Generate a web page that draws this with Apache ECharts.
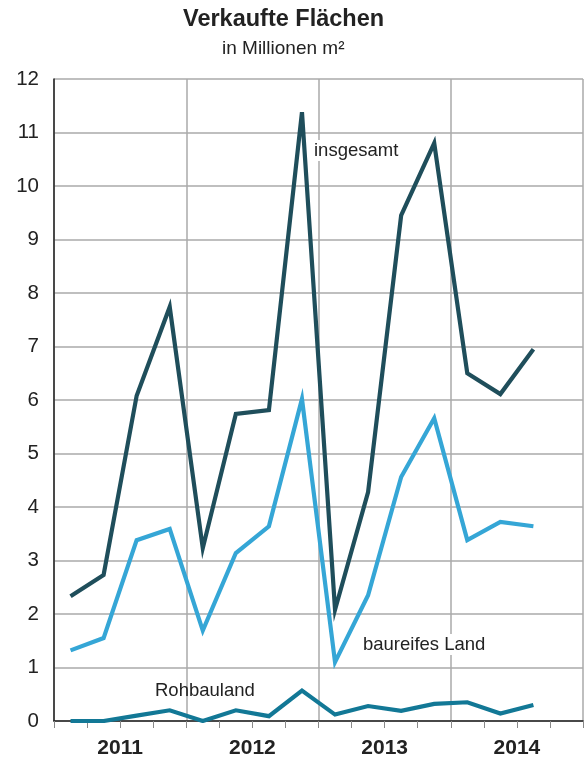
<!DOCTYPE html>
<html>
<head>
<meta charset="utf-8">
<script src="https://cdn.jsdelivr.net/npm/echarts@6/dist/echarts.min.js"></script>
<style>
  html, body { margin: 0; padding: 0; background: #fff; }
  #chart { width: 587px; height: 762px; }
</style>
</head>
<body>
<div id="chart"></div>
<script>
// Quartale 2011 Q1 .. 2014 Q4 (letztes Quartal ohne Werte)
const quarters = [
  "2011 Q1", "2011 Q2", "2011 Q3", "2011 Q4",
  "2012 Q1", "2012 Q2", "2012 Q3", "2012 Q4",
  "2013 Q1", "2013 Q2", "2013 Q3", "2013 Q4",
  "2014 Q1", "2014 Q2", "2014 Q3", "2014 Q4"
];
const years = ["2011", "2012", "2013", "2014"];

// Werte in Millionen m²
const insgesamt = [2.33, 2.73, 6.08, 7.74, 3.23, 5.74, 5.81, 11.38, 2.08, 4.28, 9.45, 10.8, 6.5, 6.11, 6.95];
const baureifesLand = [1.32, 1.55, 3.38, 3.59, 1.69, 3.14, 3.64, 6.02, 1.1, 2.35, 4.56, 5.66, 3.38, 3.72, 3.64];
const rohbauland = [0, 0, 0.1, 0.2, 0, 0.2, 0.09, 0.57, 0.12, 0.28, 0.19, 0.32, 0.35, 0.14, 0.3];

const yTicks = [0, 1, 2, 3, 4, 5, 6, 7, 8, 9, 10, 11, 12];

const font = "'Liberation Sans', Arial, sans-serif";

let myChart = echarts.init(document.getElementById("chart"));

function lineSeries(name, data, color) {
  return {
    name: name,
    type: "line",
    xAxisIndex: 0,
    data: data,
    symbol: "none",
    lineStyle: { color: color, width: 4.2, join: "miter" },
    z: 5
  };
}

let option = {
  animation: false,
  backgroundColor: "#fff",
  // Titel etwas links von der Mitte, wie im Original
  title: [
    {
      text: "Verkaufte Flächen",
      left: 178,
      top: 3,
      textStyle: { fontFamily: font, fontSize: 23.5, fontWeight: "bold", color: "#222" }
    },
    {
      text: "in Millionen m²",
      left: 217,
      top: 34,
      textStyle: { fontFamily: font, fontSize: 19, fontWeight: "normal", color: "#222" }
    }
  ],
  grid: { left: 54, right: 4, top: 79, bottom: 41 },
  xAxis: [
    {
      type: "category",
      data: quarters,
      boundaryGap: true,
      axisLine: { show: true, lineStyle: { color: "#222", width: 1.5 } },
      axisTick: { show: true, interval: 0, length: 7, lineStyle: { color: "#888", width: 1 } },
      axisLabel: { show: false },
      splitLine: { show: false }
    },
    {
      type: "category",
      data: years,
      position: "bottom",
      boundaryGap: true,
      axisLine: { show: false },
      axisTick: { show: false },
      axisLabel: { fontFamily: font, fontSize: 21, fontWeight: "bold", color: "#222", margin: 17 },
      splitLine: { show: true, lineStyle: { color: "#aaa", width: 1.5 } }
    }
  ],
  yAxis: {
    type: "value",
    min: yTicks[0],
    max: yTicks[yTicks.length - 1],
    interval: 1,
    axisLine: { show: true, lineStyle: { color: "#222", width: 1.5 } },
    axisTick: { show: false },
    axisLabel: { fontFamily: font, fontSize: 20.5, color: "#222", margin: 15 },
    splitLine: { show: true, lineStyle: { color: "#aaa", width: 1.5 } }
  },
  series: [
    lineSeries("insgesamt", insgesamt, "#1f4e5b"),
    lineSeries("baureifes Land", baureifesLand, "#35a6d6"),
    lineSeries("Rohbauland", rohbauland, "#127896")
  ],
  graphic: [
    {
      type: "text", left: 312, top: 140, z: 3,
      style: { text: "insgesamt", font: "18.5px " + font, fill: "#222", backgroundColor: "#fff", padding: [1, 2] }
    },
    {
      type: "text", left: 361, top: 634, z: 3,
      style: { text: "baureifes Land", font: "18.5px " + font, fill: "#222", backgroundColor: "#fff", padding: [1, 2] }
    },
    {
      type: "text", left: 155, top: 681, z: 3,
      style: { text: "Rohbauland", font: "18.5px " + font, fill: "#222" }
    }
  ]
};

myChart.setOption(option);
</script>
</body>
</html>
